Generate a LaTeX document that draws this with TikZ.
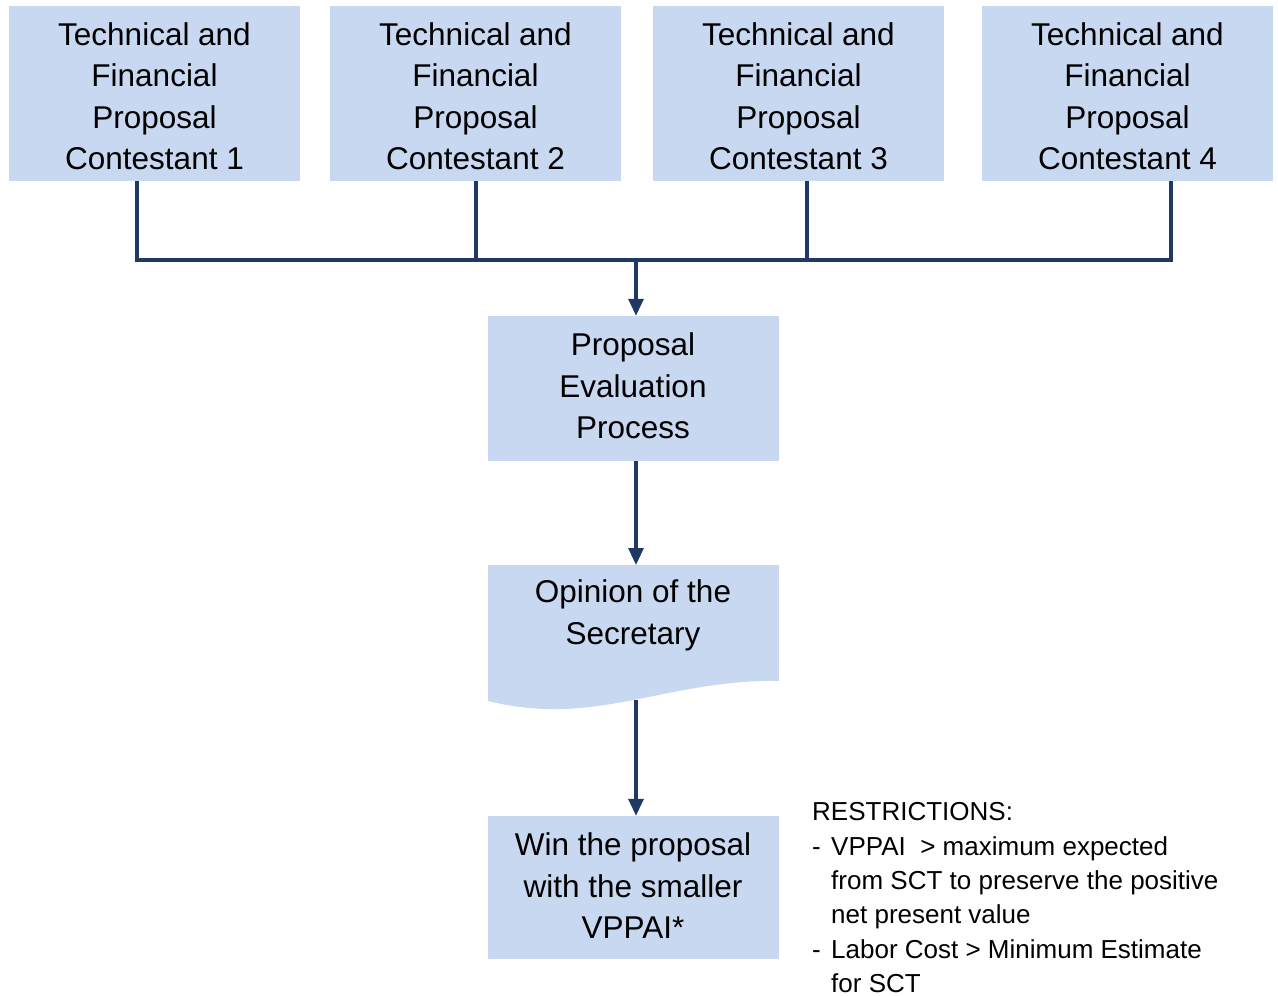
\documentclass[tikz,border=0pt]{standalone}
\usepackage{fontspec}
\setmainfont{Liberation Sans}
\usetikzlibrary{arrows.meta}
\definecolor{boxfill}{HTML}{C8D8F0}
\definecolor{navy}{HTML}{1F3864}
\begin{document}
\begin{tikzpicture}[x=1pt,y=-1pt,
  box/.style={fill=boxfill,draw=none,minimum width=291pt,minimum height=175pt,inner sep=0pt,align=center,font=\fontsize{31.5}{41.5}\selectfont},
  conn/.style={draw=navy,line width=3.2pt},
  arr/.style={conn,-{Triangle[length=17pt,width=15pt]}},
  restr/.style={anchor=base west,inner sep=0pt,font=\fontsize{26}{34.5}\selectfont}]
\useasboundingbox (0,0) rectangle (1278,996);
% top boxes
\node[box] (c1) at (154.5,93.5) {};
\node[box] (c2) at (475.5,93.5) {};
\node[box] (c3) at (798.5,93.5) {};
\node[box] (c4) at (1127.5,93.5) {};
\foreach \n/\k in {c1/1,c2/2,c3/3,c4/4}
  \node[inner sep=0pt,align=center,font=\fontsize{31.5}{41.5}\selectfont] (t\k) at ([yshift=-2.5pt]\n.center) {Technical and\\Financial\\Proposal\\Contestant \k};
% junction coordinates
\coordinate (j1) at (137,260);
\coordinate (j2) at (476,260);
\coordinate (j3) at (807,260);
\coordinate (j4) at (1171,260);
\coordinate (jm) at (636,260);
\draw[conn] (j1 |- c1.south) -- (j1) -- (j4) -- (j4 |- c4.south);
\draw[conn] (j2 |- c2.south) -- (j2);
\draw[conn] (j3 |- c3.south) -- (j3);
% evaluation
\node[box,minimum height=145pt] (pe) at (633.5,388.5) {};
\node[inner sep=0pt,align=center,font=\fontsize{31.5}{41.5}\selectfont] (pet) at (633,386) {Proposal\\Evaluation\\Process};
\draw[arr] (jm) -- (jm |- pe.north);
% opinion document
\fill[boxfill] (488,565) -- (779,565) -- (779,681)
  .. controls (690,679) and (620,712) .. (545,709)
  .. controls (520,708) and (500,704) .. (488,701) -- cycle;
\node[inner sep=0pt,align=center,font=\fontsize{31.5}{41.5}\selectfont] (op) at (633,615.5) {Opinion of the\\Secretary};
\coordinate (optop) at (636,565);
\coordinate (opbot) at (636,700);
\draw[arr] (jm |- pe.south) -- (optop);
% win box
\node[box,minimum height=143pt] (win) at (633.5,887.5) {};
\node[inner sep=0pt,align=center,font=\fontsize{31.5}{41.5}\selectfont] (wint) at (633,886) {Win the proposal\\with the smaller\\VPPAI*};
\draw[arr] (opbot) -- (opbot |- win.north);
% restrictions
\node[restr] (r1) at (812,820) {RESTRICTIONS:};
\node[restr] (r2) at (812,855) {\makebox[19pt][l]{-}VPPAI\ \ > maximum expected};
\node[restr] (r3) at (831,889) {from SCT to preserve the positive};
\node[restr] (r4) at (831,923) {net present value};
\node[restr] (r5) at (812,958) {\makebox[19pt][l]{-}Labor Cost > Minimum Estimate};
\node[restr] (r6) at (831,992) {for SCT};
\end{tikzpicture}
\end{document}
